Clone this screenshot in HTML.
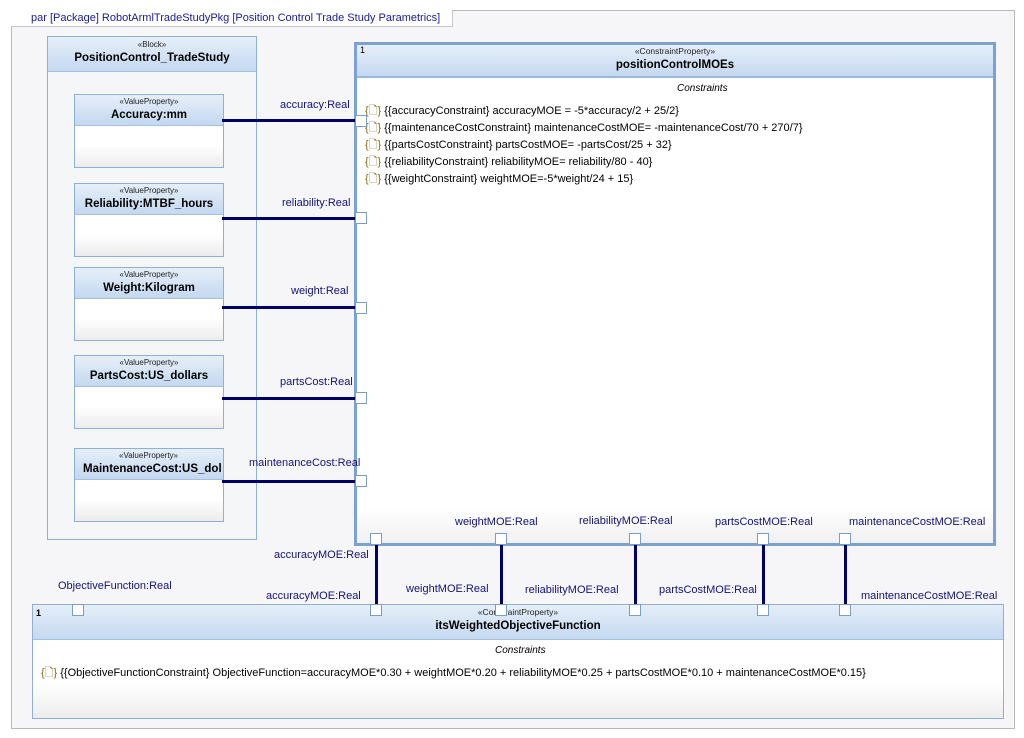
<!DOCTYPE html>
<html><head><style>
*{box-sizing:border-box;margin:0;padding:0}
body{width:1024px;height:738px;background:#fff;position:relative;font-family:"Liberation Sans",Tahoma,sans-serif;overflow:hidden}
.a{position:absolute}
.frame{left:11px;top:10px;width:1004px;height:719px;border:1px solid #b8b8b8;background:#f6f6f8}
.tab{left:11px;top:10px;width:442px;height:17px;background:#fff;border-bottom:1px solid #c8c8c8;border-right:1px solid #c8c8c8;font-size:11px;color:#1a1a9a;padding:2px 0 0 20px;white-space:nowrap}
.box{border:1px solid #8eb0d8;background:linear-gradient(#fff 70%,#ececec)}
.hd{position:absolute;left:0;right:0;top:0;background:linear-gradient(#e6eff9,#c4d8f0);text-align:center;border-bottom:1px solid #a8c0e0}
.st{font-size:8px;color:#222;line-height:11px}
.nm{font-size:11.5px;font-weight:bold;color:#000;line-height:16px}
.lbl{position:absolute;font-size:11px;color:#12127a;white-space:nowrap}
.hl{position:absolute;height:3px;background:#000066}
.vl{position:absolute;width:3px;background:#000066}
.pt{position:absolute;width:12px;height:12px;background:#fff;border:1px solid #7a9cc8}
.c{font-size:11px;color:#000;white-space:nowrap;position:absolute}
.ic{color:#8a6a10}
</style></head><body>
<div class="a frame"></div>
<div class="a tab">par [Package] RobotArmlTradeStudyPkg [Position Control Trade Study Parametrics]</div>

<div class="a box" style="left:47px;top:36px;width:210px;height:504px;background:#f5f6f8">
<div class="hd" style="height:35px;padding-top:2px"><div class="st">«Block»</div><div class="nm">PositionControl_TradeStudy</div></div></div>

<div class="a box" style="left:74px;top:94px;width:150px;height:74px"><div class="hd" style="height:31px;padding-top:1px"><div class="st">«ValueProperty»</div><div class="nm">Accuracy:mm</div></div></div>
<div class="a box" style="left:74px;top:183px;width:150px;height:74px"><div class="hd" style="height:31px;padding-top:1px"><div class="st">«ValueProperty»</div><div class="nm">Reliability:MTBF_hours</div></div></div>
<div class="a box" style="left:74px;top:267px;width:150px;height:74px"><div class="hd" style="height:31px;padding-top:1px"><div class="st">«ValueProperty»</div><div class="nm">Weight:Kilogram</div></div></div>
<div class="a box" style="left:74px;top:355px;width:150px;height:74px"><div class="hd" style="height:31px;padding-top:1px"><div class="st">«ValueProperty»</div><div class="nm">PartsCost:US_dollars</div></div></div>
<div class="a box" style="left:74px;top:448px;width:150px;height:74px;overflow:hidden"><div class="hd" style="height:31px;padding-top:1px;text-align:left;padding-left:8px"><div class="st" style="padding-left:36px">«ValueProperty»</div><div class="nm">MaintenanceCost:US_dol</div></div></div>

<div class="a" style="left:354px;top:42px;width:642px;height:504px;border:3px solid #7aa3d4;background:linear-gradient(#fff 93%,#f0f0f0)">
<div class="hd" style="height:33px;padding-top:1px;border-bottom:2px solid #9ab8dc"><div class="st" style="font-size:8.5px">«ConstraintProperty»</div><div class="nm">positionControlMOEs</div></div>
<div class="a" style="left:3px;top:0;font-size:9px">1</div>
<div class="c" style="left:320px;top:38px;font-style:italic;font-size:10px">Constraints</div>
<div class="c" style="left:8px;top:57px"><span class="ic">{🗋}</span> {{accuracyConstraint} accuracyMOE = -5*accuracy/2 + 25/2}</div>
<div class="c" style="left:8px;top:74px"><span class="ic">{🗋}</span> {{maintenanceCostConstraint} maintenanceCostMOE= -maintenanceCost/70 + 270/7}</div>
<div class="c" style="left:8px;top:91px"><span class="ic">{🗋}</span> {{partsCostConstraint} partsCostMOE= -partsCost/25 + 32}</div>
<div class="c" style="left:8px;top:108px"><span class="ic">{🗋}</span> {{reliabilityConstraint} reliabilityMOE= reliability/80 - 40}</div>
<div class="c" style="left:8px;top:125px"><span class="ic">{🗋}</span> {{weightConstraint} weightMOE=-5*weight/24 + 15}</div>
</div>

<div class="a box" style="left:32px;top:604px;width:972px;height:115px">
<div class="hd" style="height:35px;padding-top:2px"><div class="st" style="font-size:8.5px">«ConstraintProperty»</div><div class="nm">itsWeightedObjectiveFunction</div></div>
<div class="a" style="left:3px;top:3px;font-size:9px;font-weight:bold">1</div>
<div class="c" style="left:462px;top:40px;font-style:italic;font-size:10px">Constraints</div>
<div class="c" style="left:8px;top:59px"><span class="ic">{🗋}</span> {{ObjectiveFunctionConstraint} ObjectiveFunction=accuracyMOE*0.30 + weightMOE*0.20 + reliabilityMOE*0.25 + partsCostMOE*0.10 + maintenanceCostMOE*0.15}</div>
</div>

<div class="hl" style="left:222px;top:119px;width:134px"></div>
<div class="hl" style="left:222px;top:217px;width:134px"></div>
<div class="hl" style="left:222px;top:306px;width:134px"></div>
<div class="hl" style="left:222px;top:397px;width:134px"></div>
<div class="hl" style="left:222px;top:480px;width:134px"></div>
<div class="pt" style="left:355px;top:115px"></div>
<div class="pt" style="left:355px;top:212px"></div>
<div class="pt" style="left:355px;top:302px"></div>
<div class="pt" style="left:355px;top:392px"></div>
<div class="pt" style="left:355px;top:475px"></div>
<div class="lbl" style="left:280px;top:99px">accuracy:Real</div>
<div class="lbl" style="left:282px;top:197px">reliability:Real</div>
<div class="lbl" style="left:291px;top:285px">weight:Real</div>
<div class="lbl" style="left:280px;top:376px">partsCost:Real</div>
<div class="lbl" style="left:249px;top:457px">maintenanceCost:Real</div>

<div class="vl" style="left:375px;top:540px;height:66px"></div>
<div class="vl" style="left:500px;top:540px;height:66px"></div>
<div class="vl" style="left:634px;top:540px;height:66px"></div>
<div class="vl" style="left:762px;top:540px;height:66px"></div>
<div class="vl" style="left:844px;top:540px;height:66px"></div>
<div class="pt" style="left:370px;top:533px"></div>
<div class="pt" style="left:495px;top:533px"></div>
<div class="pt" style="left:629px;top:533px"></div>
<div class="pt" style="left:757px;top:533px"></div>
<div class="pt" style="left:839px;top:533px"></div>
<div class="pt" style="left:370px;top:604px"></div>
<div class="pt" style="left:495px;top:604px"></div>
<div class="pt" style="left:629px;top:604px"></div>
<div class="pt" style="left:757px;top:604px"></div>
<div class="pt" style="left:839px;top:604px"></div>
<div class="pt" style="left:72px;top:604px"></div>
<div class="lbl" style="left:455px;top:516px">weightMOE:Real</div>
<div class="lbl" style="left:579px;top:515px">reliabilityMOE:Real</div>
<div class="lbl" style="left:715px;top:516px">partsCostMOE:Real</div>
<div class="lbl" style="left:849px;top:516px">maintenanceCostMOE:Real</div>
<div class="lbl" style="left:274px;top:549px">accuracyMOE:Real</div>
<div class="lbl" style="left:266px;top:590px">accuracyMOE:Real</div>
<div class="lbl" style="left:406px;top:583px">weightMOE:Real</div>
<div class="lbl" style="left:525px;top:584px">reliabilityMOE:Real</div>
<div class="lbl" style="left:659px;top:584px">partsCostMOE:Real</div>
<div class="lbl" style="left:861px;top:590px">maintenanceCostMOE:Real</div>
<div class="lbl" style="left:58px;top:580px">ObjectiveFunction:Real</div>
</body></html>
